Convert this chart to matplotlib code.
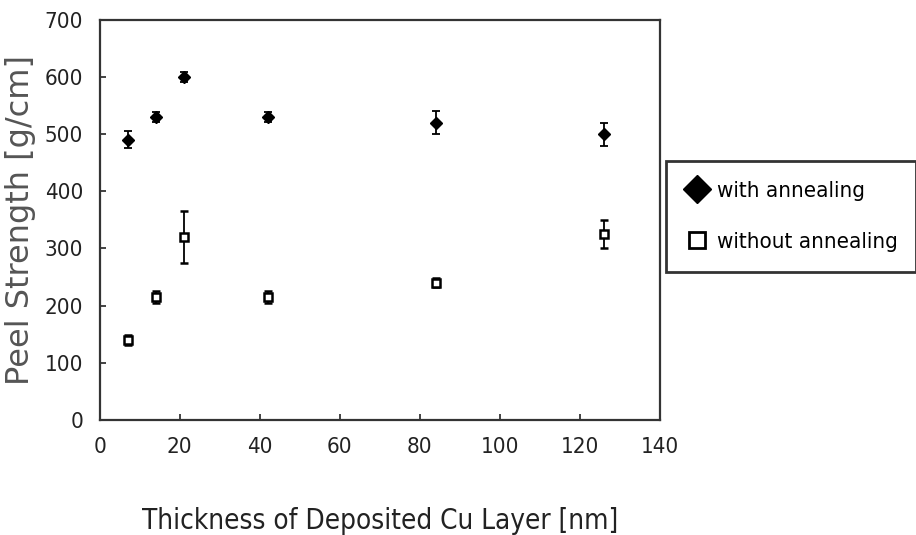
import matplotlib
matplotlib.use("Agg")
import matplotlib.pyplot as plt
from matplotlib.lines import Line2D

thickness = [7, 14, 21, 42, 84, 126]
with_annealing = [490, 530, 600, 530, 520, 500]
with_err = [15, 8, 8, 8, 20, 20]
without_annealing = [140, 215, 320, 215, 240, 325]
without_err = [8, 10, 45, 10, 8, 25]
xticks = [0, 20, 40, 60, 80, 100, 120, 140]
yticks = [0, 100, 200, 300, 400, 500, 600, 700]

plt.rcParams['font.family'] = ['DejaVu Sans']
plt.rcParams['font.stretch'] = 'condensed'

fig = plt.figure(figsize=(9.16, 5.35), dpi=100)
ax = fig.add_axes([0.109, 0.215, 0.611, 0.748])

ax.errorbar(thickness, with_annealing, yerr=with_err, fmt='D', color='black',
            markersize=6, capsize=3, elinewidth=1.3, capthick=1.3)
ax.errorbar(thickness, without_annealing, yerr=without_err, fmt='s', color='black',
            markerfacecolor='white', markersize=6, markeredgewidth=1.8,
            capsize=3, elinewidth=1.3, capthick=1.3)

ax.set_xlim(0, 140)
ax.set_ylim(0, 700)
ax.set_xticks(xticks)
ax.set_yticks(yticks)
ax.tick_params(direction='in', length=4, width=1.2, labelsize=16, colors='#222222')
ax.tick_params(axis='x', pad=12)
ax.tick_params(axis='y', pad=12)
for s in ax.spines.values():
    s.set_linewidth(1.6)
    s.set_color('#333333')

ax.set_xlabel('Thickness of Deposited Cu Layer [nm]', fontsize=20, labelpad=36, color='#222222')
ax.set_ylabel('Peel Strength [g/cm]', fontsize=23, labelpad=6, color='#555555',
              fontstretch='normal')

handles = [Line2D([], [], marker='D', color='black', linestyle='none', markersize=14),
           Line2D([], [], marker='s', color='black', markerfacecolor='white',
                  linestyle='none', markersize=11, markeredgewidth=2.0)]
leg = fig.legend(handles, ['with annealing', 'without annealing'],
                 loc='center left', bbox_to_anchor=(0.727, 0.49, 0.273, 0.21),
                 mode='expand', fontsize=16, frameon=True, fancybox=False,
                 handletextpad=0.4, borderpad=0.9, labelspacing=1.4,
                 handlelength=1.0, borderaxespad=0)
leg.get_frame().set_edgecolor('black')
leg.get_frame().set_linewidth(2.0)

fig.savefig('out.png', dpi=100)
